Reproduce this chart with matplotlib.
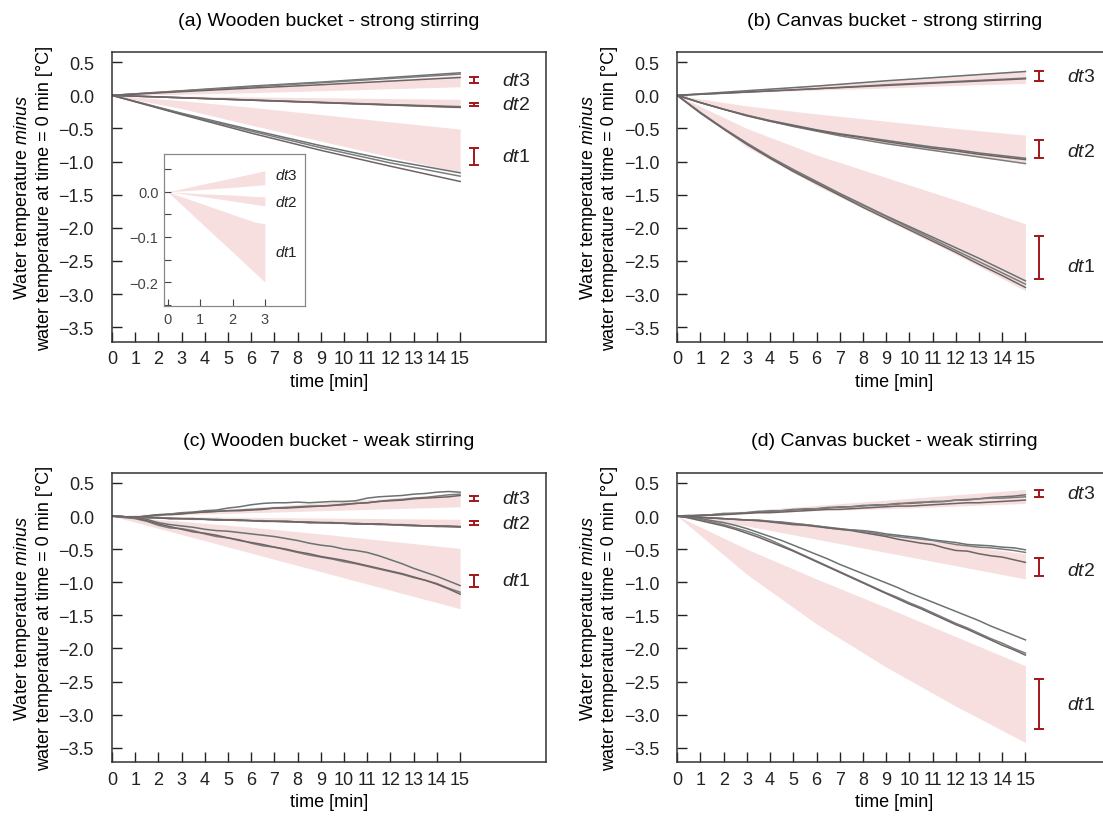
import numpy as np
import matplotlib.pyplot as plt

plt.rcParams['font.family'] = ['Liberation Sans', 'DejaVu Sans']
plt.rcParams['mathtext.fontset'] = 'custom'
plt.rcParams['mathtext.rm'] = 'Liberation Sans'
plt.rcParams['mathtext.it'] = 'Liberation Sans:italic'

# time grids [min]
T_COARSE = [0, 3, 6, 9, 12, 15]
T_MIN = np.arange(0, 16)
T_HALF = np.arange(0, 15.5, 0.5)
T_INSET = [0, 1, 2, 2.7, 3]

# ---- (a) wooden bucket, strong stirring ----
A_BAND_DT3 = ([0, 0.016, 0.04, 0.07, 0.10, 0.13], [0, 0.05, 0.11, 0.17, 0.24, 0.30])
A_BAND_DT2 = ([0, -0.035, -0.075, -0.115, -0.155, -0.195], [0, -0.012, -0.024, -0.036, -0.048, -0.06])
A_BAND_DT1 = ([0, -0.20, -0.45, -0.69, -0.93, -1.16], [0, -0.08, -0.18, -0.29, -0.40, -0.51])
A_DT3 = [[0, 0.07, 0.14, 0.20, 0.27, 0.34],
         [0, 0.065, 0.13, 0.19, 0.255, 0.32],
         [0, 0.055, 0.11, 0.16, 0.215, 0.27]]
A_DT2 = [[0, -0.035, -0.07, -0.105, -0.14, -0.17],
         [0, -0.036, -0.072, -0.108, -0.144, -0.18],
         [0, -0.037, -0.073, -0.11, -0.145, -0.18]]
A_DT1 = [[0, -0.27, -0.52, -0.76, -0.98, -1.17],
         [0, -0.28, -0.54, -0.79, -1.02, -1.22],
         [0, -0.29, -0.57, -0.83, -1.07, -1.30]]
A_BARS = [(-1.05, -0.80), (-0.16, -0.11), (0.18, 0.28)]
A_LABEL_Y = [-0.92, -0.14, 0.23]

# inset of (a): first 3 minutes
INSET_DT3 = ([0, 0.005, 0.010, 0.014, 0.016], [0, 0.016, 0.031, 0.042, 0.047])
INSET_DT2 = ([0, -0.010, -0.020, -0.028, -0.031], [0, -0.004, -0.007, -0.010, -0.011])
INSET_DT1 = ([0, -0.067, -0.133, -0.180, -0.200], [0, -0.025, -0.050, -0.067, -0.071])
INSET_LABEL_Y = [-0.133, -0.022, 0.038]

# ---- (b) canvas bucket, strong stirring ----
B_BAND_DT3 = ([0, 0.04, 0.08, 0.11, 0.15, 0.18], [0, 0.08, 0.16, 0.23, 0.31, 0.38])
B_BAND_DT2 = ([0, -0.30, -0.54, -0.72, -0.88, -1.02], [0, -0.16, -0.28, -0.39, -0.50, -0.60])
B_BAND_DT1 = ([0, -0.78, -1.36, -1.88, -2.40, -2.95], [0, -0.50, -0.90, -1.24, -1.58, -1.94])
B_DT3 = [[0, 0.07, 0.14, 0.22, 0.29, 0.36],
         [0, 0.05, 0.10, 0.16, 0.21, 0.26],
         [0, 0.05, 0.10, 0.15, 0.20, 0.25]]
B_DT2 = [[0, -0.11, -0.21, -0.30, -0.38, -0.45, -0.52, -0.58, -0.63, -0.68, -0.73, -0.78, -0.82, -0.87, -0.91, -0.95],
         [0, -0.11, -0.21, -0.30, -0.39, -0.47, -0.54, -0.61, -0.67, -0.73, -0.78, -0.83, -0.88, -0.93, -0.98, -1.03],
         [0, -0.11, -0.21, -0.31, -0.39, -0.46, -0.53, -0.59, -0.64, -0.70, -0.75, -0.80, -0.84, -0.89, -0.93, -0.97]]
B_DT1 = [[0, -0.26, -0.50, -0.72, -0.93, -1.12, -1.30, -1.48, -1.65, -1.82, -1.98, -2.14, -2.30, -2.46, -2.63, -2.80],
         [0, -0.26, -0.50, -0.73, -0.94, -1.13, -1.31, -1.49, -1.66, -1.83, -2.00, -2.17, -2.34, -2.51, -2.68, -2.85],
         [0, -0.27, -0.51, -0.74, -0.95, -1.15, -1.33, -1.51, -1.69, -1.86, -2.03, -2.20, -2.37, -2.55, -2.72, -2.90]]
B_BARS = [(-2.78, -2.13), (-0.95, -0.67), (0.21, 0.37)]
B_LABEL_Y = [-2.59, -0.85, 0.29]

# ---- (c) wooden bucket, weak stirring ----
C_BAND_DT3 = ([0, 0.02, 0.05, 0.08, 0.11, 0.14], [0, 0.06, 0.13, 0.20, 0.27, 0.34])
C_BAND_DT2 = ([0, -0.03, -0.06, -0.09, -0.12, -0.15], [0, -0.01, -0.02, -0.03, -0.04, -0.05])
C_BAND_DT1 = ([0, -0.28, -0.56, -0.84, -1.12, -1.40], [0, -0.08, -0.17, -0.27, -0.38, -0.49])
C_DT3 = [[0, -0.01, -0.02, 0.00, 0.02, 0.03, 0.05, 0.06, 0.08, 0.09, 0.12, 0.14, 0.17, 0.19, 0.20, 0.20,
          0.21, 0.20, 0.21, 0.22, 0.22, 0.23, 0.27, 0.29, 0.30, 0.31, 0.33, 0.34, 0.36, 0.37, 0.36],
         [0, -0.02, -0.03, -0.01, 0.01, 0.03, 0.04, 0.05, 0.06, 0.07, 0.08, 0.09, 0.10, 0.11, 0.12, 0.13,
          0.14, 0.15, 0.15, 0.16, 0.18, 0.19, 0.20, 0.22, 0.24, 0.25, 0.27, 0.28, 0.30, 0.32, 0.33],
         [0, -0.01, -0.02, 0.00, 0.02, 0.02, 0.03, 0.05, 0.06, 0.07, 0.08, 0.08, 0.09, 0.10, 0.12, 0.12,
          0.13, 0.14, 0.15, 0.16, 0.17, 0.19, 0.20, 0.22, 0.23, 0.24, 0.26, 0.27, 0.28, 0.29, 0.31]]
C_DT2 = [[0, -0.01, -0.02, -0.02, -0.03, -0.03, -0.04, -0.04, -0.05, -0.05, -0.06, -0.06, -0.07, -0.07, -0.08, -0.08,
          -0.09, -0.09, -0.10, -0.10, -0.11, -0.11, -0.12, -0.12, -0.13, -0.14, -0.14, -0.15, -0.15, -0.16, -0.16],
         [0, -0.02, -0.01, -0.03, -0.02, -0.04, -0.04, -0.05, -0.05, -0.06, -0.06, -0.07, -0.07, -0.08, -0.08, -0.09,
          -0.09, -0.10, -0.10, -0.11, -0.11, -0.12, -0.12, -0.13, -0.13, -0.14, -0.15, -0.15, -0.16, -0.16, -0.17],
         [0, -0.01, -0.03, -0.02, -0.03, -0.04, -0.04, -0.04, -0.05, -0.06, -0.06, -0.06, -0.07, -0.08, -0.08, -0.08,
          -0.09, -0.10, -0.10, -0.10, -0.11, -0.12, -0.12, -0.12, -0.13, -0.13, -0.14, -0.15, -0.15, -0.15, -0.16]]
C_DT1 = [[0, -0.01, -0.02, -0.05, -0.10, -0.13, -0.15, -0.17, -0.20, -0.22, -0.23, -0.25, -0.27, -0.29, -0.31, -0.34,
          -0.37, -0.41, -0.44, -0.46, -0.50, -0.52, -0.55, -0.60, -0.66, -0.72, -0.79, -0.85, -0.91, -0.98, -1.05],
         [0, -0.02, -0.04, -0.08, -0.14, -0.18, -0.19, -0.22, -0.27, -0.31, -0.33, -0.36, -0.41, -0.45, -0.47, -0.51,
          -0.55, -0.59, -0.62, -0.65, -0.69, -0.72, -0.76, -0.80, -0.84, -0.88, -0.93, -0.97, -1.02, -1.09, -1.15],
         [0, -0.01, -0.03, -0.07, -0.12, -0.16, -0.20, -0.24, -0.26, -0.29, -0.33, -0.37, -0.40, -0.43, -0.47, -0.50,
          -0.54, -0.57, -0.61, -0.64, -0.67, -0.71, -0.75, -0.79, -0.83, -0.87, -0.92, -0.97, -1.03, -1.10, -1.18]]
C_BARS = [(-1.07, -0.89), (-0.14, -0.08), (0.22, 0.30)]
C_LABEL_Y = [-0.98, -0.12, 0.26]

# ---- (d) canvas bucket, weak stirring ----
D_BAND_DT3 = ([0, 0.04, 0.08, 0.11, 0.15, 0.19], [0, 0.08, 0.16, 0.24, 0.32, 0.40])
D_BAND_DT2 = ([0, -0.15, -0.35, -0.55, -0.75, -0.95], [0, -0.06, -0.16, -0.29, -0.43, -0.57])
D_BAND_DT1 = ([0, -0.88, -1.63, -2.28, -2.87, -3.42], [0, -0.50, -0.95, -1.38, -1.82, -2.26])
D_DT3 = [[0, 0.00, 0.01, 0.02, 0.03, 0.04, 0.05, 0.07, 0.07, 0.08, 0.10, 0.10, 0.11, 0.13, 0.13, 0.14,
          0.16, 0.16, 0.17, 0.19, 0.19, 0.20, 0.22, 0.22, 0.24, 0.25, 0.26, 0.28, 0.29, 0.30, 0.32],
         [0, 0.01, 0.01, 0.02, 0.04, 0.04, 0.05, 0.06, 0.08, 0.08, 0.09, 0.11, 0.11, 0.12, 0.14, 0.14,
          0.15, 0.17, 0.17, 0.18, 0.20, 0.21, 0.21, 0.22, 0.24, 0.24, 0.26, 0.27, 0.27, 0.28, 0.29],
         [0, 0.00, 0.01, 0.01, 0.02, 0.03, 0.04, 0.05, 0.05, 0.06, 0.07, 0.08, 0.09, 0.10, 0.10, 0.11,
          0.12, 0.13, 0.14, 0.15, 0.15, 0.16, 0.17, 0.18, 0.19, 0.20, 0.20, 0.21, 0.22, 0.23, 0.24]]
D_DT2 = [[0, -0.01, -0.02, -0.03, -0.04, -0.05, -0.06, -0.07, -0.08, -0.09, -0.11, -0.13, -0.15, -0.17, -0.19, -0.21,
          -0.22, -0.24, -0.27, -0.29, -0.31, -0.33, -0.36, -0.38, -0.40, -0.43, -0.44, -0.45, -0.47, -0.48, -0.51],
         [0, -0.01, -0.02, -0.03, -0.04, -0.05, -0.06, -0.06, -0.08, -0.10, -0.12, -0.13, -0.15, -0.18, -0.20, -0.21,
          -0.23, -0.26, -0.29, -0.31, -0.33, -0.35, -0.37, -0.40, -0.43, -0.45, -0.47, -0.48, -0.50, -0.52, -0.55],
         [0, -0.01, -0.02, -0.03, -0.04, -0.05, -0.06, -0.07, -0.09, -0.11, -0.13, -0.14, -0.16, -0.18, -0.20, -0.22,
          -0.25, -0.28, -0.31, -0.35, -0.38, -0.41, -0.43, -0.48, -0.52, -0.53, -0.57, -0.60, -0.62, -0.66, -0.70]]
D_DT1 = [[0, -0.02, -0.04, -0.07, -0.10, -0.14, -0.19, -0.25, -0.31, -0.37, -0.44, -0.51, -0.58, -0.65, -0.73, -0.80,
          -0.87, -0.94, -1.01, -1.08, -1.16, -1.23, -1.30, -1.37, -1.44, -1.51, -1.58, -1.66, -1.73, -1.80, -1.87],
         [0, -0.02, -0.05, -0.09, -0.13, -0.18, -0.23, -0.29, -0.36, -0.44, -0.52, -0.60, -0.68, -0.76, -0.84, -0.92,
          -1.00, -1.08, -1.16, -1.23, -1.31, -1.38, -1.46, -1.54, -1.62, -1.69, -1.77, -1.85, -1.92, -2.00, -2.07],
         [0, -0.03, -0.07, -0.11, -0.15, -0.20, -0.26, -0.32, -0.39, -0.46, -0.53, -0.61, -0.69, -0.77, -0.85, -0.93,
          -1.01, -1.09, -1.17, -1.25, -1.33, -1.40, -1.48, -1.56, -1.64, -1.71, -1.79, -1.87, -1.95, -2.02, -2.10]]
D_BARS = [(-3.21, -2.46), (-0.90, -0.64), (0.28, 0.40)]
D_LABEL_Y = [-2.84, -0.82, 0.34]

TITLES = ['(a) Wooden bucket - strong stirring', '(b) Canvas bucket - strong stirring',
          '(c) Wooden bucket - weak stirring', '(d) Canvas bucket - weak stirring']
LABELS = [r'$dt$1', r'$dt$2', r'$dt$3']

BAND_COLOR = '#f7dfdf'
LINE_COLORS = ['#6a7272', '#7c7c7c', '#6f6464']
BAR_COLOR = '#a3161a'
YLABEL = 'Water temperature $\\mathit{minus}$\nwater temperature at time = 0 min [°C]'


def draw_panel(ax, title, bands, groups, bars, label_y):
    for lo, hi in bands:
        ax.fill_between(T_COARSE, lo, hi, color=BAND_COLOR, lw=0)
    for t, lines in groups:
        for y, c in zip(lines, LINE_COLORS):
            ax.plot(t, y, color=c, lw=1.1)
    for (lo, hi), ly, name in zip(bars, label_y, LABELS):
        ax.errorbar(15.6, (lo + hi) / 2, yerr=(hi - lo) / 2, color=BAR_COLOR,
                    capsize=3.5, lw=1.4, capthick=1.4)
        ax.text(16.8, ly, name, fontsize=14, va='center', ha='left', color='#222222')
    ax.set_xlim(0, 18.7)
    ax.set_ylim(-3.72, 0.65)
    ax.set_xticks(range(16))
    ax.set_yticks(np.arange(-3.5, 0.51, 0.5))
    ax.tick_params(direction='in', length=7, width=1, labelsize=13, colors='#222222')
    ax.tick_params(axis='x', pad=6)
    ax.tick_params(axis='y', pad=13)
    for s in ax.spines.values():
        s.set_color('#333333')
        s.set_linewidth(1.1)
    ax.set_title(title, fontsize=14, pad=20)
    ax.set_xlabel('time [min]', fontsize=13, labelpad=4)
    ax.set_ylabel(YLABEL, fontsize=13, labelpad=4)


fig = plt.figure(figsize=(11.03, 8.20), dpi=100)
ax_a = fig.add_axes([0.1015, 0.582, 0.3935, 0.353])
ax_b = fig.add_axes([0.614, 0.582, 0.3935, 0.353])
ax_c = fig.add_axes([0.1015, 0.069, 0.3935, 0.353])
ax_d = fig.add_axes([0.614, 0.069, 0.3935, 0.353])

draw_panel(ax_a, TITLES[0], [A_BAND_DT1, A_BAND_DT2, A_BAND_DT3],
           [(T_COARSE, A_DT1), (T_COARSE, A_DT2), (T_COARSE, A_DT3)], A_BARS, A_LABEL_Y)
draw_panel(ax_b, TITLES[1], [B_BAND_DT1, B_BAND_DT2, B_BAND_DT3],
           [(T_MIN, B_DT1), (T_MIN, B_DT2), (T_COARSE, B_DT3)], B_BARS, B_LABEL_Y)
draw_panel(ax_c, TITLES[2], [C_BAND_DT1, C_BAND_DT2, C_BAND_DT3],
           [(T_HALF, C_DT1), (T_HALF, C_DT2), (T_HALF, C_DT3)], C_BARS, C_LABEL_Y)
draw_panel(ax_d, TITLES[3], [D_BAND_DT1, D_BAND_DT2, D_BAND_DT3],
           [(T_HALF, D_DT1), (T_HALF, D_DT2), (T_HALF, D_DT3)], D_BARS, D_LABEL_Y)

# inset in (a)
ins = fig.add_axes([0.1487, 0.6256, 0.1278, 0.1854])
for lo, hi in [INSET_DT1, INSET_DT2, INSET_DT3]:
    ins.fill_between(T_INSET, lo, hi, color=BAND_COLOR, lw=0)
for ly, name in zip(INSET_LABEL_Y, LABELS):
    ins.text(3.3, ly, name, fontsize=11, va='center', ha='left', color='#222222')
ins.set_xlim(-0.12, 4.24)
ins.set_ylim(-0.253, 0.084)
ins.set_xticks([0, 1, 2, 3])
ins.set_yticks([-0.2, -0.1, 0.0])
ins.set_yticks([-0.25, -0.15, -0.05, 0.05], minor=True)
ins.tick_params(which='both', direction='in', length=5, width=0.8, labelsize=10.5,
                pad=4, colors='#444444')
for s in ins.spines.values():
    s.set_color('#888888')
    s.set_linewidth(0.9)

fig.savefig('out.png', dpi=100)
